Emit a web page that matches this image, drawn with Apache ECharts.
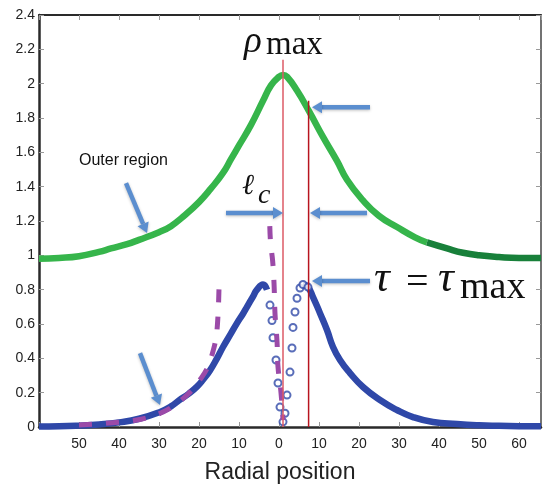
<!DOCTYPE html>
<html>
<head>
<meta charset="utf-8">
<script src="https://cdn.jsdelivr.net/npm/echarts@6/dist/echarts.min.js"></script>
<style>
  html, body { margin: 0; padding: 0; background: #fff; }
  #chart { width: 544px; height: 487px; }
</style>
</head>
<body>
<div id="chart"></div>
<script>
// density profile (green)
var greenX = [-60, -55, -50, -45, -42, -38, -35, -30, -27, -24, -20, -17, -14, -12, -10, -7, -4, -2, 0, 1, 2, 4.5, 7.5, 11, 14.5, 17, 21, 25, 29.5, 34, 37, 42, 46, 50, 55, 60, 65.5];
var greenY = [0.98, 0.985, 0.995, 1.02, 1.04, 1.065, 1.09, 1.135, 1.17, 1.225, 1.31, 1.39, 1.48, 1.56, 1.64, 1.76, 1.90, 1.99, 2.04, 2.05, 2.04, 1.96, 1.84, 1.69, 1.55, 1.44, 1.32, 1.23, 1.165, 1.105, 1.075, 1.04, 1.015, 1.0, 0.99, 0.985, 0.985];
var greenDarkFrom = 37;

// stress profile (blue): dense flanks and the sparse core
var blueLeftX = [-60, -55, -50, -45, -40, -35, -30, -27, -25, -22.5, -20.5, -19, -17.25, -15.5, -14, -12, -10.5, -9, -8, -6.5, -5.5, -4, -3];
var blueLeftY = [0.003, 0.004, 0.008, 0.015, 0.027, 0.048, 0.085, 0.12, 0.155, 0.195, 0.235, 0.275, 0.33, 0.40, 0.466, 0.545, 0.605, 0.66, 0.70, 0.76, 0.80, 0.83, 0.80];
var blueCoreX = [-2.25, -1.75, -1.5, -0.75, -0.25, 0.25, 1, 1.5, 2, 2.75, 3.25, 3.5, 4, 4.5, 5.25, 6, 7.25];
var blueCoreY = [0.71, 0.62, 0.52, 0.39, 0.256, 0.116, 0.03, 0.08, 0.186, 0.32, 0.46, 0.58, 0.67, 0.75, 0.81, 0.83, 0.815];
var blueRightX = [6, 7.25, 8.5, 10.25, 12, 13.5, 15.25, 17.75, 21, 25.25, 29.5, 33.5, 38.5, 44.5, 50, 55, 60, 65.5];
var blueRightY = [0.83, 0.815, 0.757, 0.663, 0.565, 0.466, 0.39, 0.314, 0.233, 0.157, 0.099, 0.058, 0.029, 0.017, 0.01, 0.007, 0.005, 0.004];

// purple dashed fit, two pieces
var purpleAX = [-50, -45, -41.5, -38, -34.5, -31, -29, -26.5, -24, -21.75, -19.75, -18, -16.75, -15.75, -15.25, -15];
var purpleAY = [0.012, 0.018, 0.025, 0.032, 0.045, 0.068, 0.087, 0.12, 0.165, 0.215, 0.275, 0.34, 0.42, 0.52, 0.65, 0.81];
var purpleBX = [-2.3, -2.1, -1.6, -1.25, -1, -0.5, -0.25, 0.5, 1];
var purpleBY = [1.17, 1.07, 0.97, 0.84, 0.66, 0.5, 0.35, 0.2, 0.04];

// vertical markers: position and top value
var markerX = [1, 7.4];
var markerTop = [2.14, 1.90];

var xTicks = { min: -60, max: 65.5, interval: 10 };
var yTicks = { min: 0, max: 2.4, interval: 0.2 };

function pairs(xs, ys) {
  return xs.map(function (x, i) { return [x, ys[i]]; });
}

var GREEN = '#36b54b', GREEN_DARK = '#18803a', BLUE = '#2f48a8', PURPLE = '#9b4aa8';
var ARROW = '#5b8ecf';

function band(data, color) {
  return {
    type: 'line', data: data, smooth: 0.5, symbol: 'none',
    lineStyle: { color: color, width: 6.5 },
    z: 2, silent: true
  };
}

var green = pairs(greenX, greenY);
var greenLight = green.filter(function (p) { return p[0] <= greenDarkFrom; });
var greenDark = green.filter(function (p) { return p[0] >= greenDarkFrom; });

var series = [
  band(greenLight, GREEN),
  band(greenDark, GREEN_DARK),
  band(pairs(blueLeftX, blueLeftY), BLUE),
  band(pairs(blueRightX, blueRightY), BLUE),
  {
    type: 'scatter', data: pairs(blueCoreX, blueCoreY),
    symbol: 'emptyCircle', symbolSize: 7,
    itemStyle: { color: BLUE, borderWidth: 1.3 }, z: 2, silent: true
  }
];
[pairs(purpleAX, purpleAY), pairs(purpleBX, purpleBY)].forEach(function (d) {
  series.push({
    type: 'line', data: d, smooth: 0.4, symbol: 'none',
    lineStyle: { color: PURPLE, width: 5, type: [13, 14], cap: 'butt' },
    z: 4, silent: true
  });
});
markerX.forEach(function (x, i) {
  series.push({
    type: 'line', data: [[x, 0], [x, markerTop[i]]], symbol: 'none',
    lineStyle: { color: i === 0 ? '#dd5a66' : '#b8141f', width: 1.5 },
    z: 5, silent: true
  });
});

var chart = echarts.init(document.getElementById('chart'), null, { renderer: 'canvas' });

var labelFont = { color: '#222', fontSize: 14, fontFamily: 'Liberation Sans' };
var tick = { show: true, inside: true, length: 5, lineStyle: { color: '#999' } };

chart.setOption({
  animation: false,
  grid: { left: 39, right: 3, top: 15, bottom: 60, outerBoundsMode: 'none' },
  xAxis: [{
    type: 'value', min: xTicks.min, max: xTicks.max, interval: xTicks.interval,
    position: 'bottom',
    axisLine: { onZero: false, lineStyle: { color: '#2a2a2a', width: 2.5 } },
    axisTick: tick,
    splitLine: { show: false },
    axisLabel: Object.assign({
      margin: 10, showMaxLabel: false,
      formatter: function (v) { return v === -60 ? '' : String(Math.abs(v)); }
    }, labelFont),
    name: 'Radial position', nameLocation: 'middle', nameGap: 34,
    nameTextStyle: { color: '#222', fontSize: 23, fontFamily: 'Liberation Sans', padding: [0, 20, 0, 0] }
  }, {
    type: 'value', min: xTicks.min, max: xTicks.max, interval: xTicks.interval,
    position: 'top',
    axisLine: { onZero: false, lineStyle: { color: '#2a2a2a', width: 2 } },
    axisTick: tick,
    axisLabel: { show: false }, splitLine: { show: false }
  }],
  yAxis: [{
    type: 'value', min: yTicks.min, max: yTicks.max, interval: yTicks.interval,
    position: 'left',
    axisLine: { show: true, onZero: false, lineStyle: { color: '#2a2a2a', width: 2.5 } },
    axisTick: tick,
    splitLine: { show: false },
    axisLabel: Object.assign({ margin: 4 }, labelFont)
  }, {
    type: 'value', position: 'right', min: yTicks.min, max: yTicks.max, interval: yTicks.interval,
    axisLine: { show: true, onZero: false, lineStyle: { color: '#444', width: 1.5 } },
    axisTick: tick,
    axisLabel: { show: false }, splitLine: { show: false }
  }],
  series: series
});

// annotation arrows, in data coordinates [fromX, fromY, toX, toY]
var arrows = [
  [-38.25, 1.42, -33, 1.13],
  [-34.75, 0.43, -29.75, 0.128],
  [22.75, 1.863, 8.25, 1.863],
  [-13.25, 1.246, 1, 1.246],
  [22, 1.246, 7.75, 1.246],
  [22.75, 0.85, 8.25, 0.85]
];

var graphics = [];
arrows.forEach(function (a) {
  var p0 = chart.convertToPixel({ gridIndex: 0 }, [a[0], a[1]]);
  var p1 = chart.convertToPixel({ gridIndex: 0 }, [a[2], a[3]]);
  var dx = p1[0] - p0[0], dy = p1[1] - p0[1];
  var L = Math.sqrt(dx * dx + dy * dy);
  var ux = dx / L, uy = dy / L, hl = 10, hw = 6;
  var bx = p1[0] - ux * hl, by = p1[1] - uy * hl;
  var shadow = { shadowBlur: 3, shadowColor: 'rgba(0,0,0,0.25)', shadowOffsetY: 1 };
  graphics.push({
    type: 'line', z: 10, silent: true,
    shape: { x1: p0[0], y1: p0[1], x2: bx, y2: by },
    style: Object.assign({ stroke: ARROW, lineWidth: 4.5 }, shadow)
  });
  graphics.push({
    type: 'polygon', z: 10, silent: true,
    shape: { points: [[p1[0], p1[1]], [bx - uy * hw, by + ux * hw], [bx + uy * hw, by - ux * hw]] },
    style: Object.assign({ fill: ARROW }, shadow)
  });
});

function txt(s, x, y, font) {
  return {
    type: 'text', x: x, y: y, z: 11, silent: true,
    style: { text: s, font: font, fill: '#111', align: 'left', textAlign: 'left', verticalAlign: 'middle', textVerticalAlign: 'middle' }
  };
}
var serif = '"Liberation Serif", serif';
graphics.push(
  txt('ρ', 244, 42, 'italic 37px ' + serif),
  txt('max', 266, 45, '33px ' + serif),
  txt('ℓ', 242, 186, 'italic 29px "DejaVu Serif"'),
  txt('c', 258, 196, 'italic 28px ' + serif),
  txt('τ', 374, 279, 'italic 44px ' + serif),
  txt('=', 406, 283, '40px ' + serif),
  txt('τ', 438, 279, 'italic 44px ' + serif),
  txt('max', 460, 288, '38px ' + serif),
  txt('Outer region', 79, 161, '16px "Liberation Sans"')
);

chart.setOption({ graphic: { elements: graphics } });
window.addEventListener('resize', chart.resize);
</script>
</body>
</html>
